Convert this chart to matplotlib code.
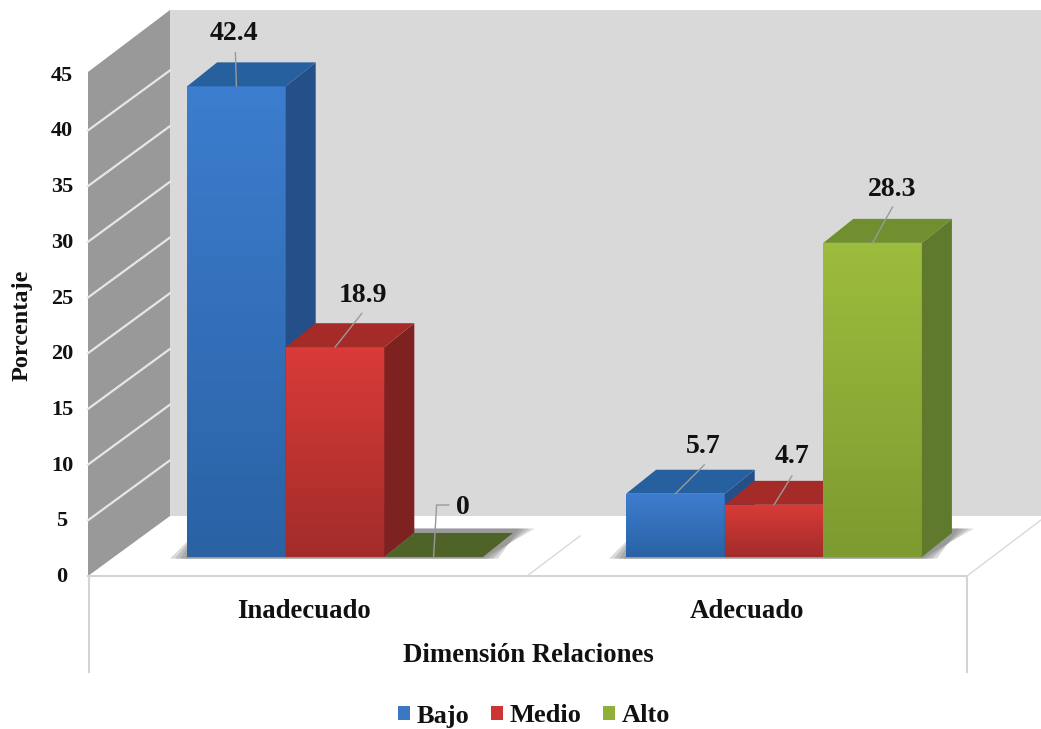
import numpy as np
import matplotlib
matplotlib.use('Agg')
import matplotlib.pyplot as plt
from matplotlib.colors import LinearSegmentedColormap
from matplotlib.patches import Patch

plt.rcParams.update({'font.family': 'Liberation Serif', 'font.weight': 'bold'})

categories = ['Inadecuado', 'Adecuado']
series = ['Bajo', 'Medio', 'Alto']
bajo = [42.4, 5.7]
medio = [18.9, 4.7]
alto = [0, 28.3]
yticks = [0, 5, 10, 15, 20, 25, 30, 35, 40, 45]

#front top, front bottom, top face, side face
colors = {'Bajo': ('#3d7dcf', '#2a62a4', '#27609f', '#254f88'),
          'Medio': ('#d93b38', '#a22c2a', '#a52b28', '#7d2220'),
          'Alto': ('#9cbc3d', '#7d9b30', '#70902f', '#5f7a2c')}
leg_colors = {'Bajo': '#3a78c4', 'Medio': '#cc3533', 'Alto': '#8fb038'}

W, H = 1041, 729
fig = plt.figure(figsize=(W/100, H/100), dpi=100)

#background frame, in pixels
bg = fig.add_axes([0, 0, 1, 1])
bg.set_xlim(0, W)
bg.set_ylim(H, 0)
bg.axis('off')
bg.fill([170, W, W, 170], [10, 10, 516, 516], color='#d9d9d9', lw=0)
bg.fill([88, 170, 170, 88], [72, 10, 516, 576], color='#999999', lw=0)
for t in yticks:
    yy = 576-11.14*t
    if 0 < t < 45:
        bg.plot([88, 170], [yy, yy-60], color='#e6e6e6', lw=1.6)
    bg.text(62, yy+1, str(t), ha='center', va='center', fontsize=16, color='#111111')
line = dict(color='#d4d4d4', lw=1.5)
bg.plot([88, 967], [576, 576], **line)
bg.plot([89, 89], [576, 672], **line)
bg.plot([967, 967], [576, 672], **line)
bg.plot([527, 580], [576, 536], color='#d9d9d9', lw=1)
bg.plot([967, 1041], [576, 520], color='#d9d9d9', lw=1)
bg.text(22, 325, 'Porcentaje', rotation=90, ha='center', va='center', fontsize=17.5, color='#111111')

#bars, x unit is one category
ax = fig.add_axes([0, 0, 1, 1])
ax.patch.set_alpha(0)
ax.axis('off')
px = 439.0
py = 11.1
x0, y0 = 335.0, 557.0
xlim = (-x0/px, (W-x0)/px)
ylim = ((y0-H)/py, y0/py)
bw = 98.6/px
dx = 30/px
dy = 24/py

pos = np.arange(len(categories))
z = 3
#soft shadow on the floor, layered
for p in pos:
    for g in [0, 5, 10, 15]:
        gx = g/px
        ax.fill([p-1.5*bw-0.039+gx, p+1.5*bw+gx, p+1.5*bw+0.118-gx, p-1.5*bw+0.03],
                [-0.15, -0.15, dy+0.4, dy+0.4], color='#6e6e6e', alpha=0.25, lw=0, zorder=2)

for p in pos:
    for k, (name, vals) in enumerate(zip(series, [bajo, medio, alto])):
        v = vals[p]
        xl = p+(k-1.5)*bw
        xr = xl+bw
        ctop, cbot, ctp, csd = colors[name]
        if v == 0:
            ax.fill([xl, xr, xr+dx, xl+dx], [0, 0, dy, dy], color='#4f6228', lw=0, zorder=z)
            z += 1
            continue
        b = ax.bar(xl+bw/2, v, width=bw, color=cbot, lw=0, zorder=z)[0]
        cm = LinearSegmentedColormap.from_list(name, [ctop, cbot])
        im = ax.imshow(np.linspace(0, 1, 64).reshape(-1, 1), cmap=cm, aspect='auto',
                       extent=(xl, xr, 0, v), origin='upper', zorder=z+0.1)
        im.set_clip_path(b)
        ax.fill([xr, xr+dx, xr+dx, xr], [0, dy, v+dy, v], color=csd, lw=0, zorder=z+0.2)
        ax.fill([xl, xr, xr+dx, xl+dx], [v, v, v+dy, v+dy], color=ctp, lw=0, zorder=z+0.2)
        z += 1

ax.set_xlim(xlim)
ax.set_ylim(ylim)

#data labels with leader lines, offsets in pixels from the front top middle
txt = {'Bajo': [(-2, 53), (28, 47)], 'Medio': [(28, 52), (18, 48)], 'Alto': [(29, 50), (20, 53)]}
lead = {'Bajo': [(-1, 34), (29, 29)], 'Medio': [(27, 34), (18, 29)], 'Alto': [(0, 0), (20, 36)]}
for k, (name, vals) in enumerate(zip(series, [bajo, medio, alto])):
    for p, v in zip(pos, vals):
        xm = p+(k-1)*bw
        tx, ty = txt[name][p]
        ax.annotate(f'{v:g}', (xm, v), xytext=(tx*0.72, ty*0.72), textcoords='offset points', ha='center',
                    va='center', fontsize=20, color='#111111', zorder=50)
        if v == 0:
            ax.plot([xm, xm+3/px, xm+15/px], [0, 52/py, 52/py], color='#999999', lw=1, zorder=49)
        else:
            ox, oy = lead[name][p]
            ax.annotate('', (xm, v), xytext=(ox*0.72, oy*0.72), textcoords='offset points', zorder=49,
                        arrowprops=dict(arrowstyle='-', color='#9a9a9a', lw=1, shrinkA=0, shrinkB=0))

#category labels
for p, c, nudge in zip(pos, categories, [-31, -27]):
    ax.text(p+nudge/px, (y0-612)/py, c, ha='center', va='center', fontsize=19.3, color='#111111')
bg.text(528, 656, 'Dimensión Relaciones', ha='center', va='center', fontsize=19.3, color='#111111')

handles = [Patch(facecolor=leg_colors[s], lw=0, label=s) for s in series]
fig.legend(handles=handles, loc='center', bbox_to_anchor=(534/W, 1-716/H), ncol=3, frameon=False,
           fontsize=19, handlelength=0.46, handleheight=0.46, handletextpad=0.25, columnspacing=0.82,
           labelcolor='#111111')

fig.savefig('out.png', dpi=100)
